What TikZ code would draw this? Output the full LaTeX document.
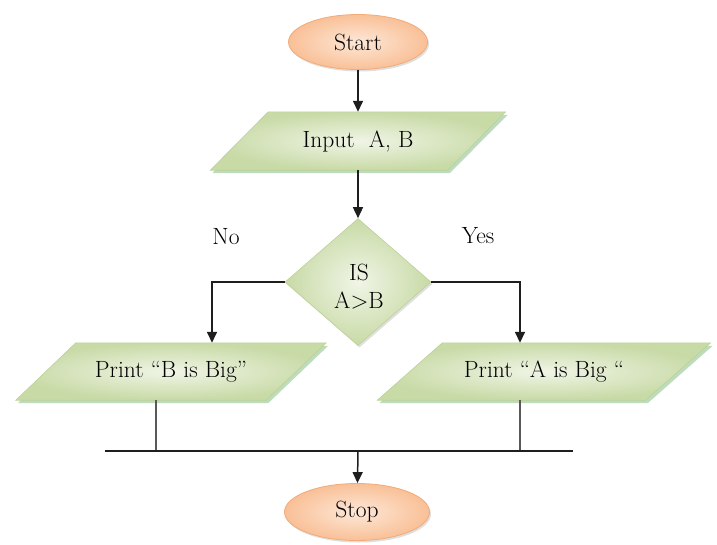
\documentclass[tikz,border=0pt]{standalone}
\usepackage{fontspec}
\usetikzlibrary{shapes.geometric,arrows.meta,shadows,calc}
\definecolor{gout}{HTML}{C8DAA6}
\definecolor{gin}{HTML}{F0F5E6}
\definecolor{gedge}{HTML}{BDD196}
\definecolor{pout}{HTML}{F9C097}
\definecolor{pin}{HTML}{FDE8D8}
\definecolor{pedge}{HTML}{F2AB78}
\definecolor{lnc}{HTML}{1E1E1E}
\tikzset{
  txt/.style={font=\fontsize{23.5}{30}\selectfont, text=black},
  term/.style={ellipse, txt, draw=pedge, line width=0.8pt, inner color=pin, outer color=pout,
    drop shadow={shadow xshift=1.5pt, shadow yshift=-2pt, opacity=0.25}},
  iobox/.style={rectangle, txt, inner sep=0pt},
  decbox/.style={diamond, draw=gedge, line width=0.6pt, inner color=gin, outer color=gout, inner sep=0pt,
    drop shadow={shadow xshift=1.5pt, shadow yshift=-2pt, opacity=0.25}},
  parafill/.style={draw=gedge, line width=0.6pt, inner color=gin, outer color=gout,
    drop shadow={shadow xshift=2pt, shadow yshift=-3pt, opacity=0.4, fill=gray!70!green}},
  conn/.style={draw=lnc, line width=1.5pt},
  arr/.style={conn, -{Triangle[width=10pt,length=11pt]}},
  lbl/.style={txt}
}
\begin{document}
\begin{tikzpicture}[x=1pt,y=-1pt]
\useasboundingbox (0,0) rectangle (717,544);
% terminals
\node[term, minimum width=139pt, minimum height=55pt] (start) at (358,42) {Start};
\node[term, minimum width=145pt, minimum height=57pt] (stop) at (357,512) {Stop};
% input box
\node[iobox, minimum width=237pt, minimum height=58pt] (in) at (358,141) {};
\path[parafill] ([xshift=29pt]in.north west) -- ([xshift=29pt]in.north east) -- ([xshift=-29pt]in.south east) -- ([xshift=-29pt]in.south west) -- cycle;
\node[txt] at (in.center) {Input\ \ A, B};
% decision
\node[decbox, minimum width=146pt, minimum height=127pt] (dec) at (358,282) {};
\node[txt, align=center, inner sep=0pt] (dectxt) at (359,287) {IS\\[-2pt]A>B};
% print boxes
\node[iobox, minimum width=250pt, minimum height=57pt] (pb) at (171,371.5) {};
\path[parafill] ([xshift=30pt]pb.north west) -- ([xshift=30pt]pb.north east) -- ([xshift=-30pt]pb.south east) -- ([xshift=-30pt]pb.south west) -- cycle;
\node[txt] at (pb.center) {Print “B is Big”};
\node[iobox, minimum width=268pt, minimum height=57pt] (pa) at (544,371.5) {};
\path[parafill] ([xshift=32.5pt]pa.north west) -- ([xshift=32.5pt]pa.north east) -- ([xshift=-32.5pt]pa.south east) -- ([xshift=-32.5pt]pa.south west) -- cycle;
\node[txt] at (pa.center) {Print “A is Big “};
% labels
\node[lbl] (no) at (226,237) {No};
\node[lbl] (yes) at (478,236) {Yes};
% helper coordinates
\coordinate (noIn) at (212,0);
\coordinate (yesIn) at (520,0);
\coordinate (busL) at (105,451);
\coordinate (busR) at (573,451);
\coordinate (busM) at (358,451);
\coordinate (bL) at (156,451);
\coordinate (bR) at (520,451);
% connectors
\draw[arr] (start) -- (in);
\draw[arr] (in) -- (dec);
\draw[arr] (dec.west) -| (noIn |- pb.north);
\draw[arr] (dec.east) -| (yesIn |- pa.north);
\draw[conn, draw=gray!70!black] (bL |- pb.south) -- (bL);
\draw[conn, draw=gray!70!black] (bR |- pa.south) -- (bR);
\draw[conn] (busL) -- (busR);
\draw[arr] (busM) -- (stop);
\end{tikzpicture}
\end{document}
